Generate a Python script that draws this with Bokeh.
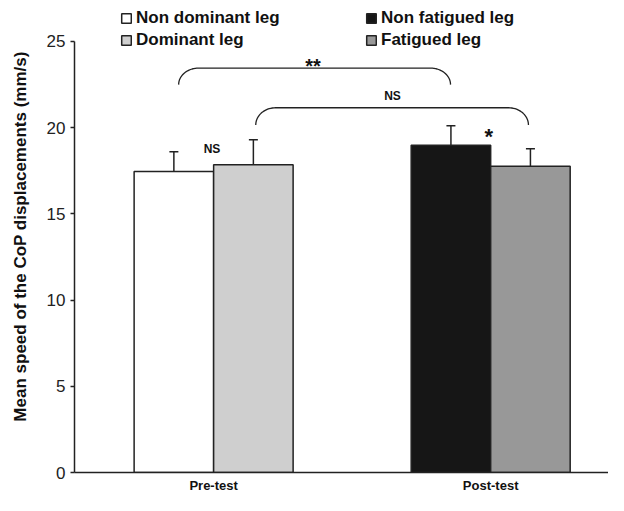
import numpy as np
from bokeh.plotting import figure
from bokeh.models import (Range1d, FixedTicker, Legend, LegendItem, Whisker,
                          ColumnDataSource, TeeHead)
from bokeh.core.properties import value
from bokeh.embed import file_html
from bokeh.resources import INLINE

# ---- data ----
groups = ["Pre-test", "Post-test"]
group_centers = [1.75, 5.235]
series = ["Non dominant leg", "Dominant leg", "Non fatigued leg", "Fatigued leg"]
series_group = [0, 0, 1, 1]
series_offset = [-0.5, 0.5, -0.5, 0.5]
means = [17.45, 17.85, 18.98, 17.76]
errors = [1.15, 1.45, 1.12, 1.02]
colors = ["#ffffff", "#cfcfcf", "#161616", "#989898"]
y_ticks = [0, 5, 10, 15, 20, 25]

bracket_x0 = [1.31, 2.28]
bracket_x1 = [4.73, 5.71]
bracket_top = [23.45, 21.15]
bracket_end = [22.49, 20.15]

note_text = ["**", "NS", "NS", "*"]
note_x = [3.0, 4.0, 1.73, 5.21]
note_y = [23.56, 21.83, 18.77, 19.5]
note_size = ["20px", "12px", "12px", "22px"]

FONT = "Liberation Sans"
INK = "#222222"

p = figure(width=608, height=495, x_range=Range1d(0, 6.717), y_range=Range1d(0, 27.37),
           output_backend="svg", toolbar_location=None,
           min_border_left=74, min_border_right=0, min_border_top=0, min_border_bottom=22)
p.outline_line_color = None
p.xgrid.visible = False
p.ygrid.visible = False

bar_x = [group_centers[g] + o for g, o in zip(series_group, series_offset)]
renderers = []
for i in range(len(series)):
    r = p.vbar(x=[bar_x[i]], top=[means[i]], width=1.0, bottom=0,
               fill_color=colors[i], line_color=INK, line_width=1.5)
    renderers.append(r)

err_src = ColumnDataSource(dict(x=bar_x, lower=means,
                                upper=[m + e for m, e in zip(means, errors)]))
w = Whisker(source=err_src, base="x", lower="lower", upper="upper", dimension="height",
            upper_head=TeeHead(size=9, line_color=INK, line_width=1.5), lower_head=None,
            line_color=INK, line_width=1.5)
p.add_layout(w)

# brackets with rounded ends
rx = 0.25
t = np.linspace(0, np.pi / 2, 20)
for x0, x1, top, end in zip(bracket_x0, bracket_x1, bracket_top, bracket_end):
    lx = x0 + rx * (1 - np.cos(t))
    ly = end + (top - end) * np.sin(t)
    rxs = (x1 - rx * (1 - np.cos(t)))[::-1]
    rys = ly[::-1]
    xs = np.concatenate([lx, rxs])
    ys = np.concatenate([ly, rys])
    p.line(xs, ys, line_color=INK, line_width=1.3)

note_src = ColumnDataSource(dict(x=note_x, y=note_y, text=note_text, size=note_size))
p.text(x="x", y="y", text="text", source=note_src, text_font=value(FONT),
       text_font_style="bold", text_font_size="size", text_align="center",
       text_baseline="alphabetic", text_color="#111111")

# axes
p.yaxis.ticker = FixedTicker(ticks=y_ticks)
p.yaxis.bounds = (0, 25)
p.yaxis.major_tick_out = 4
p.yaxis.major_tick_in = 0
p.yaxis.minor_tick_line_color = None
p.yaxis.major_label_text_font = FONT
p.yaxis.major_label_text_font_size = "17px"
p.yaxis.major_label_text_color = INK
p.yaxis.major_label_standoff = 5
p.yaxis.axis_label = "Mean speed of the CoP displacements (mm/s)"
p.yaxis.axis_label_text_font = FONT
p.yaxis.axis_label_text_font_size = "17px"
p.yaxis.axis_label_text_font_style = "bold"
p.yaxis.axis_label_text_color = "#111111"
p.yaxis.axis_label_standoff = 14
p.yaxis.axis_line_color = INK
p.yaxis.axis_line_width = 1.5
p.yaxis.major_tick_line_color = INK
p.yaxis.major_tick_line_width = 1.5

p.xaxis.ticker = FixedTicker(ticks=group_centers)
p.xaxis.major_label_overrides = {c: g for c, g in zip(group_centers, groups)}
p.xaxis.major_tick_out = 0
p.xaxis.major_tick_in = 0
p.xaxis.minor_tick_line_color = None
p.xaxis.major_label_text_font = FONT
p.xaxis.major_label_text_font_size = "13px"
p.xaxis.major_label_text_font_style = "bold"
p.xaxis.major_label_text_color = "#111111"
p.xaxis.major_label_standoff = 5
p.xaxis.axis_line_color = INK
p.xaxis.axis_line_width = 1.5

# legends
def make_legend(idx, loc):
    leg = Legend(items=[LegendItem(label=series[i], renderers=[renderers[i]]) for i in idx],
                 location=loc, orientation="vertical",
                 glyph_width=12, glyph_height=12, label_height=20, label_standoff=4,
                 spacing=2, padding=0, margin=0, border_line_color=None,
                 background_fill_alpha=0, label_text_font=FONT,
                 label_text_font_size="17px", label_text_font_style="bold",
                 label_text_color="#111111")
    p.add_layout(leg)

make_legend([0, 1], (46, 422))
make_legend([2, 3], (291, 422))

open("out.html", "w").write(file_html(p, INLINE))
